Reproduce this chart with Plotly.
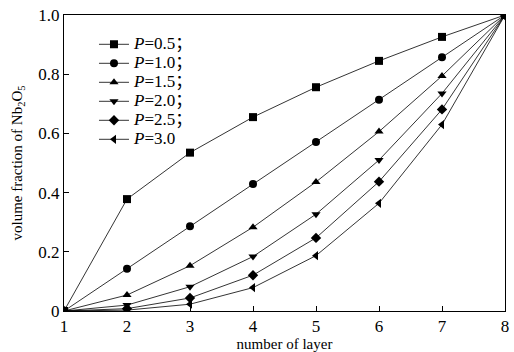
import plotly.graph_objects as go

layers = [1, 2, 3, 4, 5, 6, 7, 8]
p_labels = ["<i>P</i>=0.5；", "<i>P</i>=1.0；", "<i>P</i>=1.5；", "<i>P</i>=2.0；", "<i>P</i>=2.5；", "<i>P</i>=3.0"]
p05 = [0, 0.378, 0.535, 0.655, 0.756, 0.845, 0.926, 1.0]
p10 = [0, 0.143, 0.286, 0.429, 0.571, 0.714, 0.857, 1.0]
p15 = [0, 0.054, 0.153, 0.283, 0.436, 0.606, 0.794, 1.0]
p20 = [0, 0.020, 0.082, 0.184, 0.327, 0.510, 0.735, 1.0]
p25 = [0, 0.008, 0.044, 0.121, 0.247, 0.437, 0.681, 1.0]
p30 = [0, 0.003, 0.023, 0.079, 0.187, 0.364, 0.630, 1.0]
series = [p05, p10, p15, p20, p25, p30]
symbols = ["square", "circle", "triangle-up", "triangle-down", "diamond", "triangle-left"]

ytick_vals = [0, 0.2, 0.4, 0.6, 0.8, 1.0]
ytick_text = ["0", "0.2", "0.4", "0.6", "0.8", "1.0"]

font = "Liberation Serif"
legend_font = "Liberation Serif, Noto Sans CJK SC"

fig = go.Figure()
for name, vals, sym in zip(p_labels, series, symbols):
    fig.add_trace(go.Scatter(
        x=layers, y=vals, mode="lines+markers",
        name='<span style="font-size:17px">' + name + "</span>",
        line=dict(color="black", width=0.8),
        marker=dict(symbol=sym, size=8, color="black"),
    ))

fig.update_layout(
    width=514, height=352,
    margin=dict(l=64, r=5, t=15, b=39),
    paper_bgcolor="white", plot_bgcolor="white",
    font=dict(family=font, color="black", size=16),
    showlegend=True,
    legend=dict(x=0.068, y=0.95, xanchor="left", yanchor="top",
                bgcolor="rgba(0,0,0,0)", font=dict(size=12, family=legend_font),
                tracegroupgap=0, itemwidth=30),
)
fig.update_xaxes(
    range=[1, 8], tickvals=layers, ticks="inside", ticklen=5, tickcolor="black",
    showline=True, linecolor="black", linewidth=1, mirror=True, showgrid=False,
    zeroline=False, tickfont=dict(size=17, family=font),
    title=dict(text="number of layer", font=dict(size=15, family=font), standoff=0),
)
fig.update_yaxes(
    range=[0, 1.0], tickvals=ytick_vals, ticktext=ytick_text, ticks="inside", ticklen=5,
    tickcolor="black", showline=True, linecolor="black", linewidth=1, mirror=True,
    showgrid=False, zeroline=False, tickfont=dict(size=17, family=font),
    title=dict(text="volume fraction of Nb<sub>2</sub>O<sub>5</sub>", font=dict(size=15, family=font), standoff=12),
)
fig.write_html("out.html")
